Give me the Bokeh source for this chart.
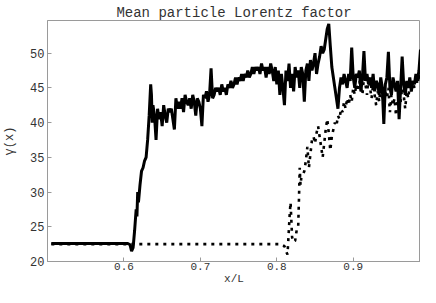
from bokeh.plotting import figure
from bokeh.models import Range1d, FixedTicker
from bokeh.embed import file_html
from bokeh.resources import INLINE

# ---- data ----
solid_x = [0.505, 0.52, 0.54, 0.56, 0.58, 0.60, 0.605, 0.608, 0.610, 0.612,
           0.614, 0.616, 0.617, 0.618, 0.619, 0.621, 0.623, 0.625, 0.627, 0.629,
           0.631, 0.633, 0.635, 0.636, 0.637, 0.638, 0.640, 0.642, 0.644, 0.646,
           0.648, 0.650, 0.652, 0.654, 0.656, 0.658, 0.660, 0.662, 0.664, 0.666,
           0.668, 0.670, 0.672, 0.674, 0.676, 0.678, 0.680, 0.682, 0.684, 0.686,
           0.688, 0.690, 0.692, 0.694, 0.696, 0.698, 0.700, 0.702, 0.704, 0.706,
           0.708, 0.710, 0.712, 0.714, 0.716, 0.718, 0.720, 0.722, 0.724, 0.726,
           0.728, 0.730, 0.732, 0.734, 0.736, 0.738, 0.740, 0.742, 0.744, 0.746,
           0.748, 0.750, 0.752, 0.754, 0.756, 0.758, 0.760, 0.762, 0.764, 0.766,
           0.768, 0.770, 0.772, 0.774, 0.776, 0.778, 0.780, 0.782, 0.784, 0.786,
           0.788, 0.790, 0.792, 0.794, 0.796, 0.798, 0.800, 0.802, 0.804, 0.806,
           0.808, 0.810, 0.812, 0.814, 0.816, 0.818, 0.820, 0.822, 0.824, 0.826,
           0.828, 0.830, 0.832, 0.834, 0.836, 0.838, 0.840, 0.842, 0.844, 0.846,
           0.848, 0.850, 0.852, 0.854, 0.856, 0.858, 0.860, 0.862, 0.864, 0.866,
           0.868, 0.870, 0.872, 0.874, 0.876, 0.878, 0.880, 0.882, 0.884, 0.886,
           0.888, 0.890, 0.892, 0.894, 0.896, 0.898, 0.900, 0.902, 0.904, 0.906,
           0.908, 0.910, 0.912, 0.914, 0.916, 0.918, 0.920, 0.922, 0.924, 0.926,
           0.928, 0.930, 0.932, 0.934, 0.936, 0.938, 0.940, 0.942, 0.944, 0.946,
           0.948, 0.950, 0.952, 0.954, 0.956, 0.958, 0.960, 0.962, 0.964, 0.966,
           0.968, 0.970, 0.972, 0.974, 0.976, 0.978, 0.980, 0.982, 0.984, 0.986,
           0.988, 0.990]
solid_y = [22.6, 22.6, 22.6, 22.6, 22.6, 22.6, 22.6, 22.4, 21.5, 22.0,
           24.5, 27.5, 26.5, 30.0, 28.5, 31.0, 33.0, 33.5, 34.5, 35.0,
           37.5, 41.0, 45.5, 44.0, 40.0, 42.5, 41.0, 37.5, 42.0, 40.5,
           41.5, 39.5, 42.5, 41.0, 40.0, 42.0, 41.5, 42.0, 40.5, 39.0,
           43.5, 42.0, 43.0, 42.0, 43.5, 41.5, 44.0, 43.0, 42.5, 43.5,
           42.0, 44.0, 43.0, 41.0, 43.5, 43.0, 42.0, 39.5, 44.0, 43.5,
           44.5, 43.0, 44.0, 47.8, 43.5, 44.0, 45.0, 44.5, 45.0, 44.0,
           45.5, 44.5, 45.0, 44.0, 45.5, 45.0, 46.0, 45.0, 45.5, 46.5,
           45.5, 46.5, 46.0, 47.0, 46.0, 47.0, 46.5, 47.5, 46.5, 47.0,
           48.0, 47.0, 48.0, 47.5, 48.0, 47.0, 48.5, 47.5, 48.0, 46.5,
           48.0, 47.0, 48.5, 47.5, 46.0, 48.0, 45.5, 47.5, 44.0, 47.0,
           45.0, 42.5, 47.5, 46.0, 48.5, 45.0, 47.0, 44.5, 48.0, 46.5,
           47.5, 45.0, 48.0, 47.0, 43.0, 47.5, 48.5, 46.0, 49.0, 47.5,
           48.5, 50.0, 47.0, 48.5, 49.5, 51.0, 50.0, 50.5, 52.0, 53.5,
           54.2, 51.0, 48.0, 46.5, 45.0, 43.5, 42.0, 45.0, 46.5, 45.5,
           47.0, 46.0, 45.0, 47.0, 46.0, 50.8, 46.5, 45.0, 47.0, 46.5,
           47.5, 44.5, 46.5, 50.3, 46.0, 47.0, 45.5, 46.5, 45.0, 47.0,
           44.5, 46.0, 45.5, 44.0, 46.5, 45.0, 39.8, 45.5, 46.5, 50.2,
           45.0, 44.0, 46.5, 45.5, 44.5, 46.0, 40.5, 45.0, 49.5, 45.5,
           44.0, 46.0, 45.0, 46.5, 44.5, 46.0, 45.5, 47.0, 46.0, 47.5,
           50.5, 47.0]

dot_x = [0.505, 0.60, 0.70, 0.805, 0.810, 0.812, 0.814, 0.815, 0.816, 0.817,
         0.818, 0.819, 0.820, 0.822, 0.824, 0.826, 0.828, 0.829, 0.830, 0.831,
         0.832, 0.834, 0.836, 0.838, 0.840, 0.841, 0.842, 0.844, 0.846, 0.848,
         0.850, 0.852, 0.854, 0.856, 0.858, 0.860, 0.862, 0.864, 0.866, 0.868,
         0.870, 0.872, 0.874, 0.876, 0.878, 0.880, 0.882, 0.884, 0.886, 0.888,
         0.890, 0.892, 0.894, 0.896, 0.898, 0.900, 0.902, 0.904, 0.906, 0.908,
         0.910, 0.912, 0.914, 0.916, 0.918, 0.920, 0.922, 0.924, 0.926, 0.928,
         0.930, 0.932, 0.934, 0.936, 0.938, 0.940, 0.942, 0.944, 0.946, 0.948,
         0.950, 0.952, 0.954, 0.956, 0.958, 0.960, 0.962, 0.964, 0.966, 0.968,
         0.970, 0.972, 0.974, 0.976, 0.978, 0.980, 0.982, 0.984, 0.986, 0.988,
         0.990]
dot_y = [22.5, 22.5, 22.5, 22.5, 22.2, 21.5, 21.0, 23.0, 25.0, 27.0,
         28.5, 26.0, 23.5, 22.8, 23.0, 24.5, 25.0, 29.0, 33.5, 31.0,
         32.0, 32.5, 33.0, 34.5, 36.5, 35.0, 33.5, 35.5, 37.5, 38.0,
         37.0, 38.5, 39.5, 38.0, 36.5, 35.0, 37.0, 39.0, 40.5, 38.5,
         36.0, 38.0, 39.0, 40.0, 39.5, 41.0, 40.5, 42.0, 41.5, 43.0,
         42.0, 43.5, 42.5, 44.0, 43.0, 45.0, 44.0, 45.5, 44.5, 46.0,
         45.0, 44.0, 46.5, 45.5, 44.0, 46.5, 45.0, 43.5, 45.5, 44.0,
         42.5, 44.5, 43.0, 45.5, 44.0, 42.0, 44.5, 43.5, 45.0, 41.5,
         44.0, 42.5, 43.5, 41.0, 43.0, 44.5, 43.0, 45.0, 44.0, 42.0,
         44.5, 43.5, 45.5, 44.5, 46.0, 45.0, 46.5, 45.5, 47.0, 46.0,
         47.5]

x_ticks = [0.6, 0.7, 0.8, 0.9]
y_ticks = [20, 25, 30, 35, 40, 45, 50]
title_text = "Mean particle Lorentz factor"
x_label = "x/L"
y_label = "γ(x)"

FONT = "Liberation Mono"
AX = "#9a9a9a"
TXT = "#333333"

p = figure(width=420, height=287, output_backend="svg", toolbar_location=None,
           x_range=Range1d(0.5, 0.988), y_range=Range1d(20, 54.7),
           min_border_left=45, min_border_right=0, min_border_top=20,
           min_border_bottom=0, title=title_text)
p.title.align = "center"
p.title.text_font = FONT
p.title.text_font_size = "14px"
p.title.text_font_style = "normal"
p.title.text_color = TXT
p.title.standoff = 0
p.title.offset = 0
p.grid.visible = False
p.outline_line_color = AX
p.background_fill_color = "white"

for ax, ticks in ((p.xaxis[0], x_ticks), (p.yaxis[0], y_ticks)):
    ax.ticker = FixedTicker(ticks=ticks, minor_ticks=[])
    ax.axis_line_color = AX
    ax.major_tick_line_color = AX
    ax.minor_tick_line_color = None
    ax.major_tick_in = 4
    ax.major_tick_out = 0
    ax.major_label_text_font = FONT
    ax.major_label_text_font_size = "12px"
    ax.major_label_text_color = TXT
    ax.major_label_standoff = 3
    ax.axis_label_text_font = FONT
    ax.axis_label_text_font_size = "12px"
    ax.axis_label_text_font_style = "normal"
    ax.axis_label_text_color = TXT

p.xaxis[0].axis_label = x_label
p.xaxis[0].axis_label_standoff = 0
p.xaxis[0].major_label_standoff = 1
p.xaxis[0].major_label_text_font_size = "11px"
p.xaxis[0].axis_label_text_font_size = "11px"
p.yaxis[0].axis_label = y_label
p.yaxis[0].axis_label_standoff = 10

p.line(dot_x, dot_y, line_color="black", line_width=2.6, line_dash="3 5")
p.line(solid_x, solid_y, line_color="black", line_width=3)

open("out.html", "w").write(file_html(p, INLINE))
